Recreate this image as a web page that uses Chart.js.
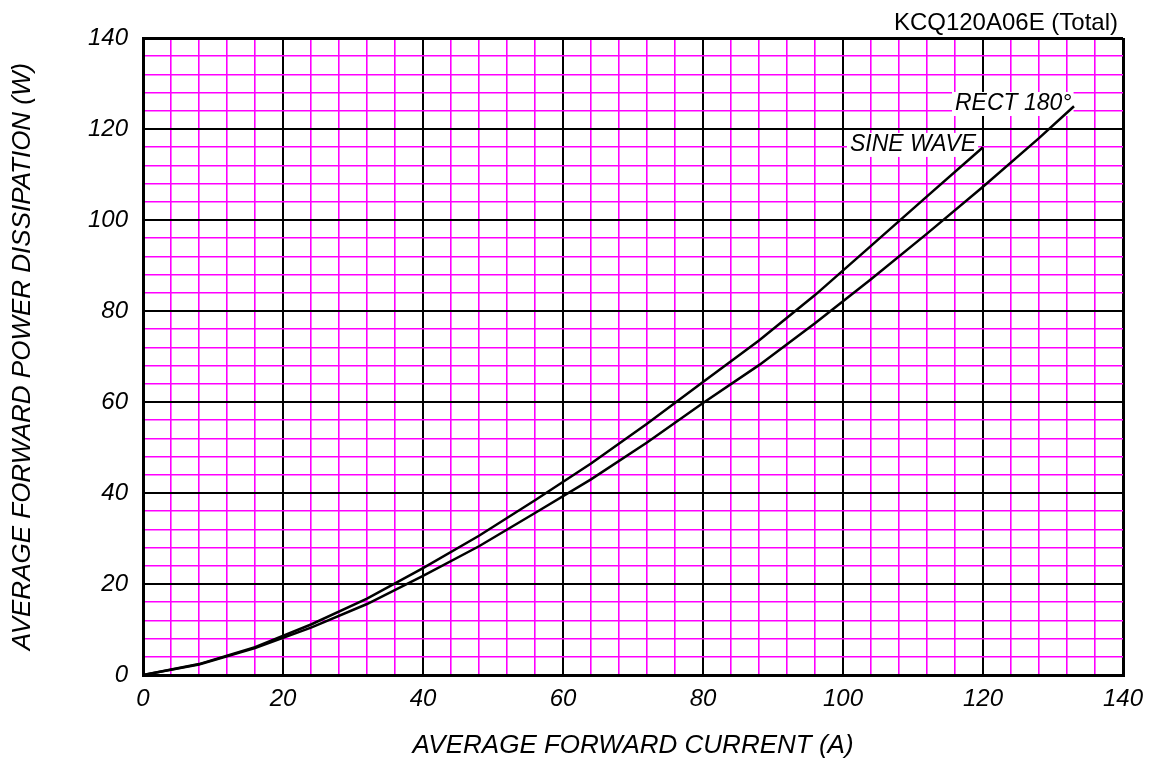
<!DOCTYPE html>
<html>
<head>
<meta charset="utf-8">
<title>KCQ120A06E power dissipation</title>
<script src="https://cdn.jsdelivr.net/npm/chart.js@4.4.1/dist/chart.umd.min.js"></script>
<style>
  html, body { margin: 0; padding: 0; background: #fff; }
  #wrap { width: 1162px; height: 762px; }
</style>
</head>
<body>
<div id="wrap"><canvas id="powerChart" width="1162" height="762"></canvas></div>
<script>
// Data
const currentSine = [0, 8, 16, 24, 32, 40, 48, 56, 64, 72, 80, 88, 96, 104, 112, 120];
const powerSine   = [0, 2.4, 6.1, 11.1, 16.8, 23.5, 30.6, 38.4, 46.5, 55.2, 64.4, 73.5, 83.5, 94.3, 105.2, 116];

const currentRect = [0, 8, 16, 24, 32, 40, 48, 56, 64, 72, 80, 88, 96, 104, 112, 120, 128, 133];
const powerRect   = [0, 2.3, 5.9, 10.4, 15.6, 21.8, 28.3, 35.6, 43.0, 51.1, 59.8, 68.1, 77.3, 87.0, 97.0, 107.3, 118, 125];

const axisMin = 0;
const axisMax = 140;
const minorStep = 4;
const majorStep = 20;

const chartTitle = 'KCQ120A06E (Total)';
const xTitle = 'AVERAGE FORWARD CURRENT (A)';
const yTitle = 'AVERAGE FORWARD POWER DISSIPATION (W)';
const sineLabel = 'SINE WAVE';
const rectLabel = 'RECT 180°';

const toPoints = (xs, ys) => xs.map((x, i) => ({ x: x, y: ys[i] }));

const FONT = '"Liberation Sans", Arial, sans-serif';
const MAGENTA = '#ff00ff';

function gridColor(c) {
  const v = c.tick ? c.tick.value : 0;
  return v % majorStep === 0 ? '#000' : MAGENTA;
}
function gridWidth(c) {
  const v = c.tick ? c.tick.value : 0;
  if (v === axisMin || v === axisMax) return 3;
  return v % majorStep === 0 ? 2 : 1.6;
}
const tickLabel = v => (v % majorStep === 0 ? String(v) : '');

// chart title plus curve captions (drawn under the curves so the line tips stay visible)
const labelsPlugin = {
  id: 'curveLabels',
  beforeDatasetsDraw(chart) {
    const c = chart.ctx;
    const xs = chart.scales.x, ys = chart.scales.y;
    c.save();
    c.fillStyle = '#000';
    c.font = '24px ' + FONT;
    c.textAlign = 'right';
    c.textBaseline = 'alphabetic';
    c.fillText(chartTitle, 1118, 30);

    c.font = 'italic 23px ' + FONT;
    c.textAlign = 'left';
    c.textBaseline = 'middle';
    const captions = [
      { text: sineLabel, x: xs.getPixelForValue(101.0), y: ys.getPixelForValue(116.5) },
      { text: rectLabel, x: xs.getPixelForValue(116.0), y: ys.getPixelForValue(125.5) }
    ];
    captions.forEach(cp => {
      const w = c.measureText(cp.text).width;
      c.fillStyle = '#fff';
      c.fillRect(cp.x - 3, cp.y - 12, w + 5, 24);
      c.fillStyle = '#000';
      c.fillText(cp.text, cp.x, cp.y);
    });
    c.restore();
  }
};

const ctx = document.getElementById('powerChart').getContext('2d');

new Chart(ctx, {
  type: 'scatter',
  data: {
    datasets: [
      {
        label: sineLabel,
        data: toPoints(currentSine, powerSine),
        showLine: true,
        borderColor: '#000',
        borderWidth: 2.5,
        pointRadius: 0,
        tension: 0
      },
      {
        label: rectLabel,
        data: toPoints(currentRect, powerRect),
        showLine: true,
        borderColor: '#000',
        borderWidth: 2.5,
        pointRadius: 0,
        tension: 0
      }
    ]
  },
  options: {
    responsive: false,
    animation: false,
    devicePixelRatio: 1,
    layout: { padding: { top: 38, right: 39, left: 0, bottom: 0 } },
    plugins: {
      legend: { display: false },
      tooltip: { enabled: false }
    },
    scales: {
      x: {
        type: 'linear',
        min: axisMin,
        max: axisMax,
        afterFit: s => { s.height = 87; },
        border: { display: true, color: '#000', width: 3 },
        grid: { color: gridColor, lineWidth: gridWidth, drawTicks: false },
        ticks: {
          stepSize: minorStep,
          autoSkip: false,
          maxRotation: 0,
          padding: 10,
          color: '#000',
          font: { family: FONT, size: 24, style: 'italic' },
          callback: tickLabel
        },
        title: {
          display: true,
          text: xTitle,
          color: '#000',
          font: { family: FONT, size: 26, style: 'italic' },
          padding: { top: 0, bottom: 1 }
        }
      },
      y: {
        type: 'linear',
        min: axisMin,
        max: axisMax,
        afterFit: s => { s.width = 143; },
        border: { display: true, color: '#000', width: 3 },
        grid: { color: gridColor, lineWidth: gridWidth, drawTicks: false },
        ticks: {
          stepSize: minorStep,
          autoSkip: false,
          padding: 15,
          color: '#000',
          font: { family: FONT, size: 24, style: 'italic' },
          callback: tickLabel
        },
        title: {
          display: true,
          text: yTitle,
          color: '#000',
          font: { family: FONT, size: 26, style: 'italic' },
          padding: { top: 7, bottom: 0 }
        }
      }
    }
  },
  plugins: [labelsPlugin]
});
</script>
</body>
</html>
